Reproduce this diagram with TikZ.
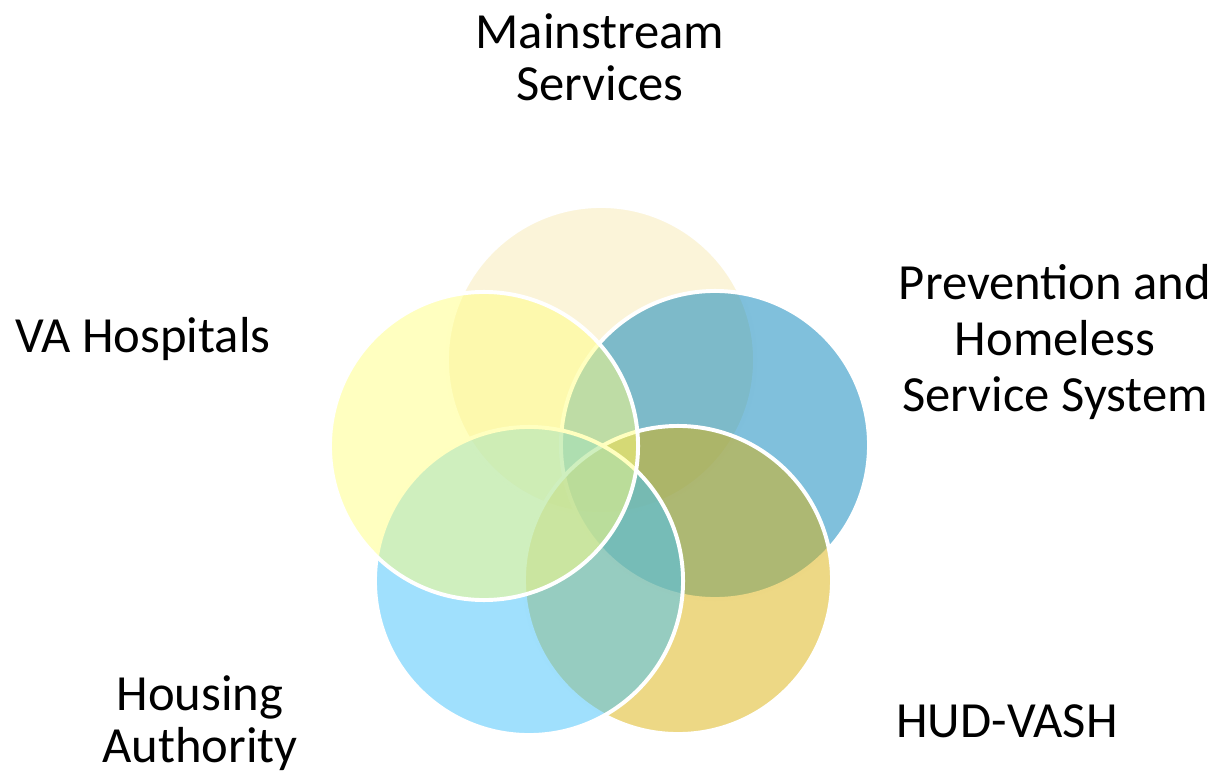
\documentclass[tikz,border=0pt]{standalone}
\usepackage{fontspec}
\setmainfont{Carlito}
\usetikzlibrary{positioning}

\definecolor{creamfill}{RGB}{247,233,180}
\definecolor{bluefill}{RGB}{1,129,185}
\definecolor{goldfill}{RGB}{219,177,11}
\definecolor{skyfill}{RGB}{65,193,251}
\definecolor{yellowfill}{RGB}{255,255,129}

\begin{document}
\begin{tikzpicture}[x=0.025cm,y=-0.025cm]
  \tikzstyle{ring} = [circle,draw=white,line width=2.8pt,minimum size=7.7cm,inner sep=0,fill opacity=0.5]
  \tikzstyle{ringtext} = [font=\fontsize{36}{37}\selectfont,align=center,inner sep=0]

  \useasboundingbox (0,0) rectangle (1217,773);

  % circles, clockwise from the top
  \node [ring,fill=creamfill]  (mainstream) at (601,360) {};
  \node [ring,fill=bluefill]   (prevention) at (715,445) {};
  \node [ring,fill=goldfill]   (hudvash)    at (678,580) {};
  \node [ring,fill=skyfill]    (housing)    at (529,581) {};
  \node [ring,fill=yellowfill] (vahosp)     at (484,446) {};

  % texts
  \node [ringtext] (mainstreamtext) at (600,57) {Mainstream\\Services};
  \node [ringtext,font=\fontsize{36}{40}\selectfont] (preventiontext) at (1055,342) {Prevention and\\Homeless\\Service System};
  \node [ringtext,anchor=base] (hudvashtext) at (1007,737) {HUD-VASH};
  \node [ringtext] (housingtext) at (200,723) {Housing\\Authority};
  \node [ringtext,anchor=base] (vahosptext) at (143,353) {VA Hospitals};
\end{tikzpicture}
\end{document}
